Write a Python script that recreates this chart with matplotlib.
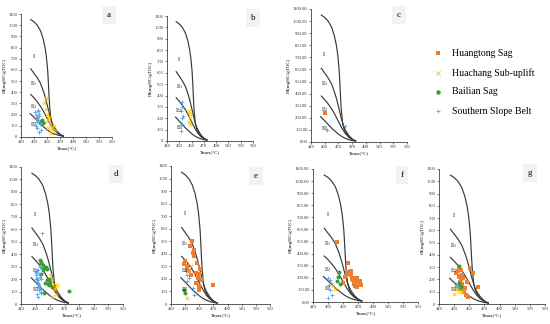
import matplotlib
matplotlib.use("Agg")
import matplotlib.pyplot as plt
from matplotlib.ticker import FormatStrFormatter

plt.rcParams['font.family'] = ['Liberation Serif', 'DejaVu Serif']
plt.rcParams['mathtext.fontset'] = 'stix'

# Kerogen type boundary curves (Tmax, HI)
c1_t = [425, 430, 435, 440, 444, 447, 449, 451, 452, 453, 454, 456, 458, 462, 467, 472, 475]
c1_hi = [1050, 1030, 1000, 950, 880, 800, 720, 600, 500, 380, 280, 160, 110, 65, 35, 15, 8]
c2_t = [425, 430, 435, 440, 445, 448, 451, 454, 457, 460, 465, 470, 475]
c2_hi = [610, 570, 530, 480, 400, 340, 270, 200, 140, 100, 55, 25, 8]
c3_t = [425, 430, 435, 440, 445, 450, 455, 460, 465, 470, 475]
c3_hi = [380, 350, 315, 275, 225, 170, 115, 70, 40, 20, 8]
c4_t = [424, 430, 435, 440, 445, 450, 455, 460, 465, 470, 475]
c4_hi = [210, 175, 145, 115, 90, 65, 45, 30, 20, 12, 8]

groups = ["Huangtong Sag", "Huachang Sub-uplift", "Bailian Sag", "Southern Slope Belt"]
panels = ["a", "b", "c", "d", "e", "f", "g"]

# sample points per panel: {group: (Tmax list, HI list)}
data_a = {
    "Huachang Sub-uplift": ([446, 448, 450, 452, 455, 457, 460, 462, 449, 453, 456, 451, 458, 447],
                            [300, 250, 200, 150, 120, 90, 100, 60, 350, 180, 40, 80, 70, 130]),
    "Bailian Sag": ([440, 442, 444], [140, 150, 125]),
    "Southern Slope Belt": ([432, 433, 434, 435, 436, 434, 437, 438, 433, 435, 436, 439, 440, 436, 434, 438],
                            [220, 200, 180, 160, 240, 130, 210, 190, 100, 80, 150, 120, 60, 230, 170, 45]),
}
data_b = {
    "Huachang Sub-uplift": ([446, 447, 448, 446, 447], [260, 240, 200, 170, 150]),
    "Southern Slope Belt": ([434, 435, 433, 436, 434, 435, 433], [340, 300, 260, 220, 200, 150, 90]),
}
data_c = {
    "Huangtong Sag": ([431], [240]),
    "Southern Slope Belt": ([433, 459], [100, 135]),
}
data_d = {
    "Huachang Sub-uplift": ([450, 452, 454, 456, 458, 453, 455, 460], [230, 200, 150, 120, 80, 60, 140, 150]),
    "Bailian Sag": ([436, 438, 440, 442, 444, 446, 448, 450, 440, 445, 447, 449, 452, 438, 443, 476, 437, 441],
                    [350, 330, 310, 290, 300, 280, 200, 180, 270, 190, 160, 150, 140, 340, 170, 105, 240, 90]),
    "Southern Slope Belt": ([430, 431, 432, 433, 434, 435, 436, 437, 438, 430, 432, 434, 436, 433, 435, 437,
                             431, 433, 435, 439, 434, 432, 436, 438],
                            [250, 230, 210, 190, 170, 150, 130, 120, 100, 200, 180, 160, 220, 140, 110, 90,
                             260, 270, 240, 570, 60, 80, 300, 200]),
}
data_e = {
    "Huangtong Sag": ([440, 437, 441, 443, 442, 430, 429, 432, 447, 451, 450, 448, 452, 454, 450, 449,
                       438, 436, 445, 469, 433, 446],
                      [500, 460, 410, 380, 430, 340, 320, 300, 330, 280, 240, 210, 190, 200, 140, 110,
                       230, 260, 250, 155, 270, 170]),
    "Huachang Sub-uplift": ([433, 434, 438], [45, 260, 300]),
    "Bailian Sag": ([428, 430], [110, 85]),
    "Southern Slope Belt": ([431, 433, 435, 432, 441, 443], [260, 230, 210, 180, 130, 70]),
}
data_f = {
    "Huangtong Sag": ([442, 457, 455, 453, 458, 460, 462, 465, 467, 470, 472, 474, 466, 463, 469, 471,
                       456, 450, 468, 473, 461, 464],
                      [500, 320, 240, 210, 230, 260, 190, 200, 170, 150, 160, 140, 130, 180, 120, 140,
                       250, 160, 200, 170, 220, 150]),
    "Huachang Sub-uplift": ([437, 439], [130, 110]),
    "Bailian Sag": ([444, 443, 442, 446], [250, 210, 170, 150]),
    "Southern Slope Belt": ([430, 432, 434, 431, 433, 435, 430], [200, 180, 160, 140, 100, 60, 30]),
}
data_g = {
    "Huangtong Sag": ([433, 435, 437, 439, 441, 436, 438, 440, 442, 444, 434, 437, 439, 448, 451, 455,
                       461, 443, 445, 447, 436],
                      [250, 270, 230, 200, 240, 290, 180, 160, 210, 130, 150, 120, 280, 60, 290, 250,
                       140, 100, 70, 180, 220]),
    "Huachang Sub-uplift": ([432, 434, 436, 438, 440, 430], [130, 120, 110, 150, 100, 80]),
    "Bailian Sag": ([436, 437, 438, 439], [310, 170, 150, 140]),
    "Southern Slope Belt": ([433, 435], [160, 140]),
}
panel_data = [data_a, data_b, data_c, data_d, data_e, data_f, data_g]

styles = {
    "Huangtong Sag": dict(marker="s", color="#ED7D31", s=7, linewidths=0),
    "Huachang Sub-uplift": dict(marker="x", color="#FFC000", s=7, linewidths=0.6),
    "Bailian Sag": dict(marker="o", color="#3A9A35", s=8, linewidths=0),
    "Southern Slope Belt": dict(marker="+", color="#5BA3DC", s=7, linewidths=0.6),
}

W, H = 550, 324
# axes boxes in pixels: left, right, top, bottom
boxes = [(21, 112, 14, 137), (167, 253, 16, 141), (311, 407, 9, 142),
         (21, 123, 167, 304), (171, 270, 166, 304), (313, 418, 169, 302), (439, 545, 169, 304)]
# letter box centres in pixels
letter_pos = [(109, 15), (253, 18), (399, 15), (116, 174), (256, 176), (402, 175), (530, 173)]
decimal_panels = ["c", "f"]

fig = plt.figure(figsize=(W / 100, H / 100), dpi=100)

for i, name in enumerate(panels):
    l, r, t, b = boxes[i]
    ax = fig.add_axes([l / W, 1 - b / H, (r - l) / W, (b - t) / H])
    for ct, chi in [(c1_t, c1_hi), (c2_t, c2_hi), (c3_t, c3_hi), (c4_t, c4_hi)]:
        ax.plot(ct, chi, color="#3a3a3a", lw=0.85, zorder=2)
    for g in groups:
        if g in panel_data[i]:
            xs, ys = panel_data[i][g]
            ax.scatter(xs, ys, zorder=3, **styles[g])
    ax.text(429, 720, "I", fontsize=4.2, ha="center", va="center")
    ax.text(430, 480, r"II$_1$", fontsize=4.2, ha="center", va="center")
    ax.text(430, 270, r"II$_2$", fontsize=4.2, ha="center", va="center")
    ax.text(430, 115, "III", fontsize=4.2, ha="center", va="center")

    ax.set_xlim(410, 550)
    ax.set_ylim(0, 1100)
    ax.set_xticks(range(410, 551, 20))
    ax.set_yticks(range(0, 1101, 100))
    if name in decimal_panels:
        ax.yaxis.set_major_formatter(FormatStrFormatter("%.2f"))
    ax.tick_params(labelsize=3.3, length=1.5, width=0.5, pad=1, colors="#404040", labelcolor="#333333")
    for s in ["top", "right"]:
        ax.spines[s].set_visible(False)
    for s in ["left", "bottom"]:
        ax.spines[s].set_linewidth(0.6)
        ax.spines[s].set_color("#404040")
    ax.set_xlabel("Tmax(°C)", fontsize=3.6, labelpad=1.5)
    ax.set_ylabel("HI(mgHC/gTOC)", fontsize=3.6, labelpad=1.5)

    lx, ly = letter_pos[i]
    fig.text(lx / W, 1 - ly / H, name, fontsize=6.5, ha="center", va="center",
             bbox=dict(boxstyle="square,pad=0.5", facecolor="#F2F2F2", edgecolor="none"))

# legend, drawn on an overlay in pixel coordinates
leg_y = [53, 73, 92, 111]
legax = fig.add_axes([0, 0, 1, 1], facecolor="none")
legax.set_xlim(0, W)
legax.set_ylim(H, 0)
legax.axis("off")
for g, y in zip(groups, leg_y):
    st = dict(styles[g])
    st["s"] = 10
    legax.scatter([438], [y], **st)
    legax.text(452, y, g, fontsize=7, ha="left", va="center")

fig.savefig("out.png", dpi=100)
